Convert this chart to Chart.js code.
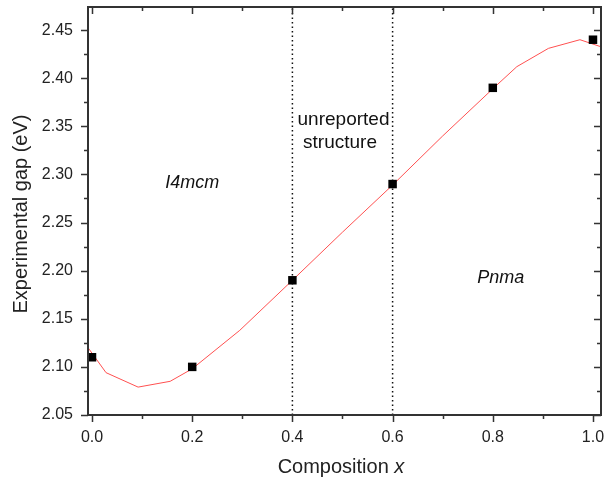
<!DOCTYPE html>
<html>
<head>
<meta charset="utf-8">
<script src="https://cdn.jsdelivr.net/npm/chart.js@4.4.0/dist/chart.umd.min.js"></script>
<style>
  html, body { margin: 0; padding: 0; background: #fff; }
  #wrap { width: 604px; height: 482px; }
</style>
</head>
<body>
<div id="wrap"><canvas id="grafico" width="604" height="482"></canvas></div>
<script>
// measured band gap per composition
const composiciones = [0.0, 0.2, 0.4, 0.6, 0.8, 1.0];
const gapMedido = [2.11, 2.10, 2.19, 2.29, 2.39, 2.44];

// red guide curve
const curvaX = [-0.008, 0.028, 0.092, 0.156, 0.2, 0.295, 0.4, 0.5, 0.6, 0.7, 0.8, 0.848, 0.911, 0.974, 1.014];
const curvaY = [2.120, 2.094, 2.079, 2.085, 2.098, 2.138, 2.190, 2.240, 2.289, 2.340, 2.389, 2.412, 2.431, 2.440, 2.433];

// phase boundaries
const limitesFase = [0.4, 0.6];

const ticksX = [0.0, 0.2, 0.4, 0.6, 0.8, 1.0];
const ticksY = [2.05, 2.10, 2.15, 2.20, 2.25, 2.30, 2.35, 2.40, 2.45];

const etiquetas = [
  { text: 'I4mcm', x: 0.2, y: 2.291, italic: true, size: 18 },
  { text: 'unreported', x: 0.502, y: 2.357, italic: false, size: 19 },
  { text: 'structure', x: 0.495, y: 2.333, italic: false, size: 19 },
  { text: 'Pnma', x: 0.816, y: 2.192, italic: true, size: 18 }
];

const FUENTE = '"Liberation Sans", Arial, sans-serif';
const GRIS = '#333';

// ticks on all four sides + frame + titles + labels
const extras = {
  id: 'extras',
  afterDatasetsDraw(chart) {
    const { ctx, chartArea: a, scales: { x, y } } = chart;
    ctx.save();
    ctx.strokeStyle = GRIS;
    ctx.lineWidth = 1.5;

    // x ticks (major every 0.2, minor every 0.1)
    for (let i = 0; i <= 10; i++) {
      const px = Math.round(x.getPixelForValue(i / 10)) + 0.5;
      const len = i % 2 === 0 ? 7 : 4;
      ctx.beginPath();
      ctx.moveTo(px, a.bottom); ctx.lineTo(px, a.bottom + len);
      ctx.moveTo(px, a.top); ctx.lineTo(px, a.top + len);
      ctx.stroke();
    }
    // y ticks (major every 0.05, minor every 0.025)
    for (let i = 0; i <= 16; i++) {
      const py = Math.round(y.getPixelForValue(2.05 + i * 0.025)) + 0.5;
      const len = i % 2 === 0 ? 7 : 4;
      ctx.beginPath();
      ctx.moveTo(a.left, py); ctx.lineTo(a.left - len, py);
      ctx.moveTo(a.right, py); ctx.lineTo(a.right - len, py);
      ctx.stroke();
    }
    // frame
    ctx.lineWidth = 2;
    ctx.strokeRect(a.left, a.top, a.right - a.left, a.bottom - a.top);

    // annotations
    ctx.fillStyle = '#111';
    ctx.textAlign = 'center';
    ctx.textBaseline = 'middle';
    etiquetas.forEach(e => {
      ctx.font = (e.italic ? 'italic ' : '') + e.size + 'px ' + FUENTE;
      ctx.fillText(e.text, x.getPixelForValue(e.x), y.getPixelForValue(e.y));
    });

    // x title: "Composition " + italic x
    ctx.fillStyle = '#222';
    ctx.textAlign = 'left';
    const t1 = 'Composition ';
    ctx.font = '20px ' + FUENTE;
    const w1 = ctx.measureText(t1).width;
    ctx.font = 'italic 20px ' + FUENTE;
    const w2 = ctx.measureText('x').width;
    const x0 = 341 - (w1 + w2) / 2;
    ctx.font = '20px ' + FUENTE;
    ctx.fillText(t1, x0, 467);
    ctx.font = 'italic 20px ' + FUENTE;
    ctx.fillText('x', x0 + w1, 467);

    // y title
    ctx.translate(21, 214);
    ctx.rotate(-Math.PI / 2);
    ctx.textAlign = 'center';
    ctx.font = '20px ' + FUENTE;
    ctx.fillText('Experimental gap (eV)', 0, 0);
    ctx.restore();
  }
};

const lineaVertical = v => ({
  type: 'line',
  data: [{ x: v, y: 2.05 }, { x: v, y: 2.474 }],
  borderColor: '#111',
  borderWidth: 1.5,
  borderDash: [1.5, 3],
  pointRadius: 0,
  fill: false
});

const sinPadding = s => { s.paddingTop = 0; s.paddingBottom = 0; s.paddingLeft = 0; s.paddingRight = 0; };

const config = {
  type: 'scatter',
  data: {
    datasets: [
      {
        label: 'Experimental',
        data: composiciones.map((c, i) => ({ x: c, y: gapMedido[i] })),
        pointStyle: 'rect',
        pointRadius: 6,
        backgroundColor: '#000',
        borderColor: '#000',
        borderWidth: 0
      },
      {
        type: 'line',
        label: 'Ajuste',
        data: curvaX.map((c, i) => ({ x: c, y: curvaY[i] })),
        borderColor: '#ff5050',
        borderWidth: 1,
        pointRadius: 0,
        tension: 0,
        fill: false
      },
      ...limitesFase.map(lineaVertical)
    ]
  },
  options: {
    responsive: false,
    animation: false,
    devicePixelRatio: 1,
    layout: { autoPadding: false, padding: { top: 7, right: 3, left: 0, bottom: 0 } },
    plugins: {
      legend: { display: false },
      tooltip: { enabled: false }
    },
    scales: {
      x: {
        type: 'linear',
        min: -0.008,
        max: 1.016,
        afterBuildTicks: s => { s.ticks = ticksX.map(v => ({ value: v })); },
        afterFit: s => { s.height = 67; sinPadding(s); },
        grid: { display: false, drawTicks: false },
        border: { display: false },
        ticks: {
          color: '#222',
          font: { family: FUENTE, size: 16 },
          padding: 13,
          maxRotation: 0,
          callback: v => v.toFixed(1)
        }
      },
      y: {
        type: 'linear',
        min: 2.05,
        max: 2.474,
        afterBuildTicks: s => { s.ticks = ticksY.map(v => ({ value: v })); },
        afterFit: s => { s.width = 88; sinPadding(s); },
        grid: { display: false, drawTicks: false },
        border: { display: false },
        ticks: {
          color: '#222',
          font: { family: FUENTE, size: 16 },
          padding: 15,
          callback: v => v.toFixed(2)
        }
      }
    }
  },
  plugins: [extras]
};

new Chart(document.getElementById('grafico').getContext('2d'), config);
</script>
</body>
</html>
